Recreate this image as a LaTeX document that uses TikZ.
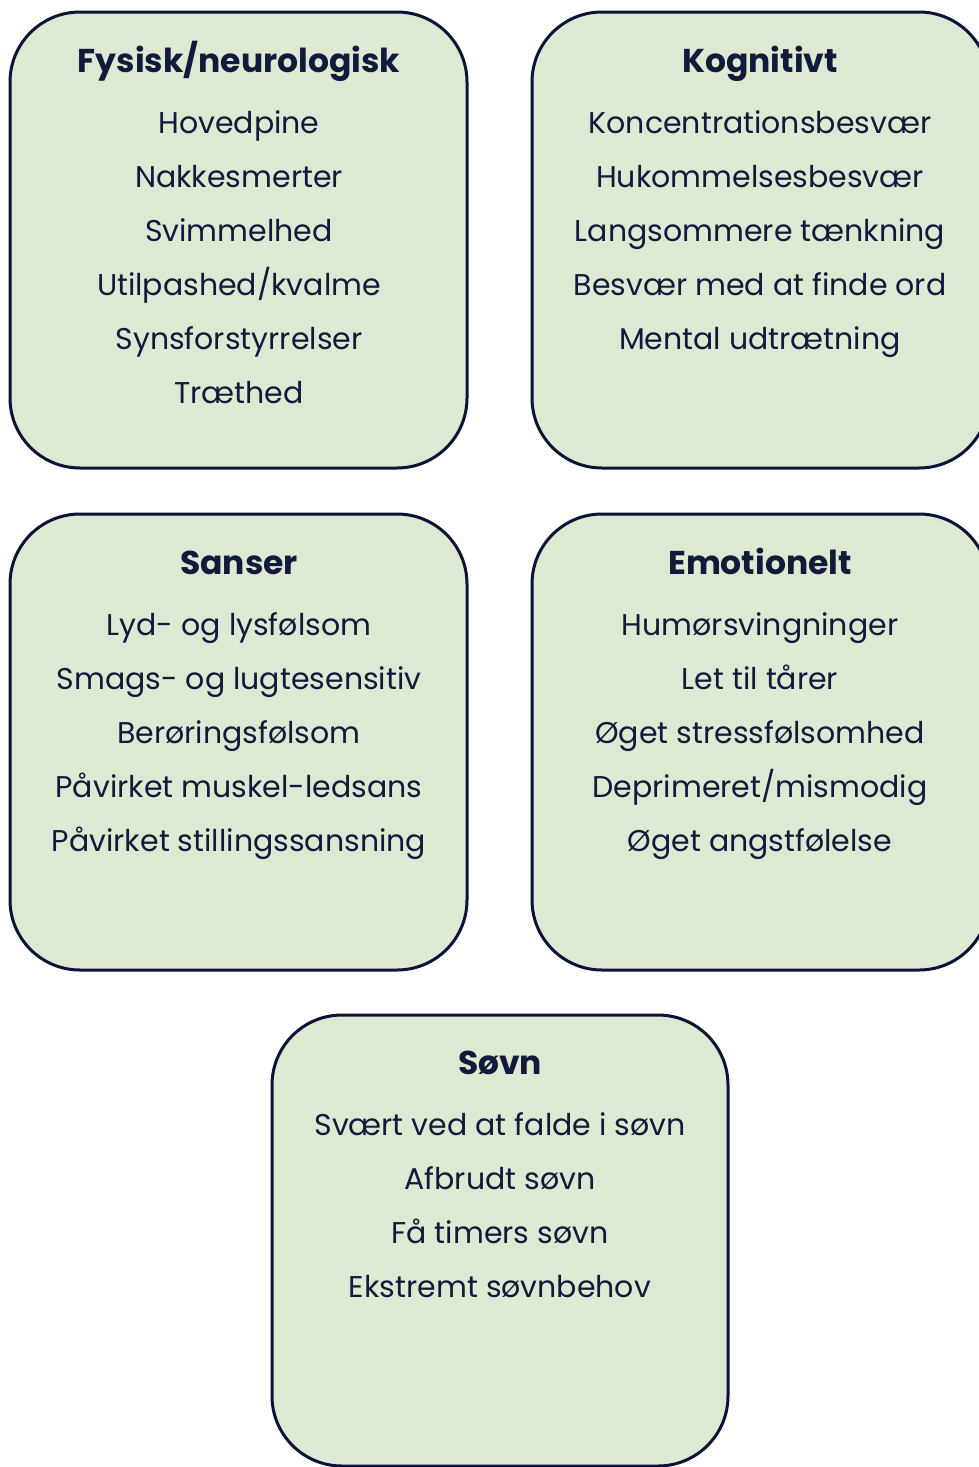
\documentclass[tikz,border=0pt]{standalone}
\usepackage{fontspec}
\setmainfont{Poppins}
\definecolor{boxfill}{HTML}{DDE9D2}
\definecolor{boxline}{HTML}{0B1436}
\definecolor{txt}{HTML}{111A3A}
\tikzset{
  catbox/.style={draw=boxline, line width=3pt, fill=boxfill, rounded corners=70pt},
  ttl/.style={anchor=base, text=txt, font=\fontsize{33}{38}\selectfont\bfseries, inner sep=0pt},
  itm/.style={anchor=base, text=txt, font=\fontsize{30}{36}\selectfont, inner sep=0pt}
}
\begin{document}
\begin{tikzpicture}[x=1pt,y=-1pt]
\useasboundingbox (0,0) rectangle (979,1467);
\clip (0,0) rectangle (979,1467);
% boxes
\draw[catbox] (10,12) rectangle (467,468);
\draw[catbox] (532,12) rectangle (989,468);
\draw[catbox] (10,514) rectangle (467,970);
\draw[catbox] (532,514) rectangle (989,970);
\draw[catbox] (272,1015) rectangle (728,1466);
% box 1
\node[ttl] (t1) at (239,72) {Fysisk/neurologisk};
\node[itm] (a1) at (239,133) {Hovedpine};
\node[itm] (a2) at (239,187) {Nakkesmerter};
\node[itm] (a3) at (239,241) {Svimmelhed};
\node[itm] (a4) at (239,295) {Utilpashed/kvalme};
\node[itm] (a5) at (239,349) {Synsforstyrrelser};
\node[itm] (a6) at (239,403) {Træthed};
% box 2
\node[ttl] (t2) at (760,72) {Kognitivt};
\node[itm] (b1) at (760,133) {Koncentrationsbesvær};
\node[itm] (b2) at (760,187) {Hukommelsesbesvær};
\node[itm] (b3) at (760,241) {Langsommere tænkning};
\node[itm] (b4) at (760,295) {Besvær med at finde ord};
\node[itm] (b5) at (760,349) {Mental udtrætning};
% box 3
\node[ttl] (t3) at (239,574) {Sanser};
\node[itm] (c1) at (239,635) {Lyd- og lysfølsom};
\node[itm] (c2) at (239,689) {Smags- og lugtesensitiv};
\node[itm] (c3) at (239,743) {Berøringsfølsom};
\node[itm] (c4) at (239,797) {Påvirket muskel-ledsans};
\node[itm] (c5) at (239,851) {Påvirket stillingssansning};
% box 4
\node[ttl] (t4) at (760,574) {Emotionelt};
\node[itm] (d1) at (760,635) {Humørsvingninger};
\node[itm] (d2) at (760,689) {Let til tårer};
\node[itm] (d3) at (760,743) {Øget stressfølsomhed};
\node[itm] (d4) at (760,797) {Deprimeret/mismodig};
\node[itm] (d5) at (760,851) {Øget angstfølelse};
% box 5
\node[ttl] (t5) at (500,1074) {Søvn};
\node[itm] (e1) at (500,1135) {Svært ved at falde i søvn};
\node[itm] (e2) at (500,1189) {Afbrudt søvn};
\node[itm] (e3) at (500,1243) {Få timers søvn};
\node[itm] (e4) at (500,1297) {Ekstremt søvnbehov};
\end{tikzpicture}
\end{document}
